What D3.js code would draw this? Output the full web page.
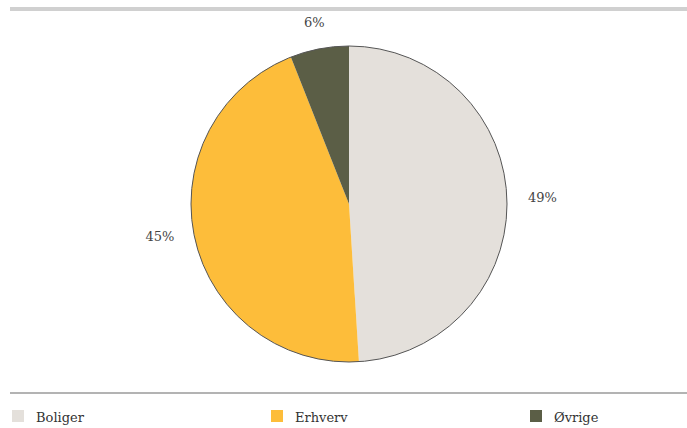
<!doctype html>
<html>
<head>
    <meta charset="utf-8">
    <script src="https://d3js.org/d3.v7.min.js"></script>
    <style>
        body { margin: 0; background: #fff; }
        text { font-family: "DejaVu Serif", serif; }
    </style>
</head>
<body>

    <svg width="687" height="428"></svg>

    <script>
        var categories = ['Boliger', 'Erhverv', 'Øvrige'];
        var shares = [49, 45, 6];
        var colors = ['#e4e0db', '#fdbd3a', '#5b5e46'];

        var svg = d3.select("svg"),
            width = +svg.attr("width"),
            height = +svg.attr("height"),
            radius = 158;

        // rules above and below the chart
        svg.append("line")
            .attr("x1", 10).attr("x2", width)
            .attr("y1", 9).attr("y2", 9)
            .attr("stroke", "#d0d0d0")
            .attr("stroke-width", 4);

        svg.append("line")
            .attr("x1", 10).attr("x2", width)
            .attr("y1", 393).attr("y2", 393)
            .attr("stroke", "#9a9a9a")
            .attr("stroke-width", 1.5);

        var g = svg.append("g").attr("transform", "translate(349,204)");

        var color = d3.scaleOrdinal().domain(categories).range(colors);

        var pie = d3.pie().sort(null).value((d, i) => shares[i]);
        var arc = d3.arc().innerRadius(0).outerRadius(radius);

        var arcs = pie(categories);

        g.selectAll("path.slice")
            .data(arcs)
            .enter()
            .append("path")
            .attr("class", "slice")
            .attr("fill", d => color(d.data))
            .attr("d", arc);

        // outline round the pie only
        g.append("circle")
            .attr("r", radius)
            .attr("fill", "none")
            .attr("stroke", "#555")
            .attr("stroke-width", 1);

        // percentage labels outside the pie
        var gap = 21;
        g.selectAll("text.lbl")
            .data(arcs)
            .enter()
            .append("text")
            .attr("class", "lbl")
            .attr("text-anchor", "middle")
            .attr("font-size", "13px")
            .attr("fill", "#444")
            .text((d, i) => shares[i] + "%")
            .each(function(d) {
                var bb = this.getBBox();
                var a = (d.startAngle + d.endAngle) / 2;
                var sx = Math.sin(a), sy = -Math.cos(a);
                var ext = Math.min(
                    Math.abs(sx) > 1e-6 ? (bb.width / 2) / Math.abs(sx) : Infinity,
                    Math.abs(sy) > 1e-6 ? 6 / Math.abs(sy) : Infinity);
                var rr = radius + gap + ext;
                // labels on the lower half sit a little higher
                var lift = sy > 0 ? -sy * 45 : 0;
                d3.select(this)
                    .attr("x", sx * rr)
                    .attr("y", sy * rr + 4.5 + lift);
            });

        // legend
        var legendX = d3.scalePoint().domain(categories).range([12, 530]);

        var leg = svg.selectAll("g.legend")
            .data(categories)
            .enter()
            .append("g")
            .attr("class", "legend")
            .attr("transform", d => "translate(" + legendX(d) + ",410)");

        leg.append("rect")
            .attr("width", 12).attr("height", 12)
            .attr("fill", d => color(d));

        leg.append("text")
            .attr("x", 24)
            .attr("y", 12)
            .attr("font-size", "13px")
            .attr("fill", "#333")
            .text(d => d);
    </script>
</body>
</html>
